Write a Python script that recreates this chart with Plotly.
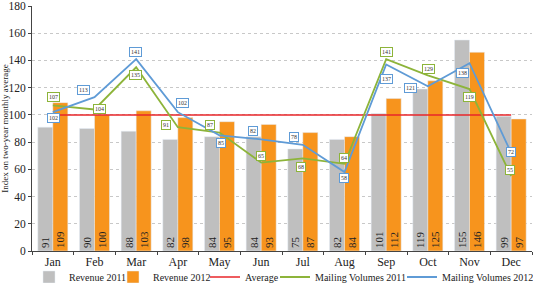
import plotly.graph_objects as go

months = ["Jan", "Feb", "Mar", "Apr", "May", "Jun", "Jul", "Aug", "Sep", "Oct", "Nov", "Dec"]
revenue_2011 = [91, 90, 88, 82, 84, 84, 75, 82, 101, 119, 155, 99]
revenue_2012 = [109, 100, 103, 98, 95, 93, 87, 84, 112, 125, 146, 97]
average = [100] * 12
mailing_2011 = [107, 104, 135, 91, 87, 65, 68, 64, 141, 129, 119, 55]
mailing_2012 = [102, 113, 141, 102, 85, 82, 78, 58, 137, 121, 138, 72]

# label offsets (pixels) for the line data labels
off_2011 = [(1, 8), (5, 0), (-1, -8), (-12, 2), (-10, 8), (0, 7), (-2, -9), (-1, 6), (0, 7), (1, 6), (0, -8), (-1, 6)]
off_2012 = [(1, -6), (-11, 7), (-1, 7), (5, 9), (1, -8), (-8, 8), (-9, 8), (-1, -6), (0, -14), (-17, -2), (-7, -10), (0, 1)]

SERIF = "Liberation Serif"
GRAY = "#bfbfbf"
ORANGE = "#f7941d"
RED = "#e8262a"
GREEN = "#8db43a"
BLUE = "#5f9bd6"
W, H = 533, 283

# legend x positions (pixels, container) for each entry
leg_px = [29, 113, 205, 275, 402]
leg_names = ["legend", "legend2", "legend3", "legend4", "legend5"]

fig = go.Figure()
fig.add_trace(go.Bar(x=months, y=revenue_2011, name="Revenue 2011", marker_color=GRAY,
                     text=revenue_2011, textposition="inside", insidetextanchor="start",
                     textangle=-90, textfont=dict(family=SERIF, size=11, color="#222"),
                     legend="legend"))
fig.add_trace(go.Bar(x=months, y=revenue_2012, name="Revenue 2012", marker_color=ORANGE,
                     text=revenue_2012, textposition="inside", insidetextanchor="start",
                     textangle=-90, textfont=dict(family=SERIF, size=11, color="#222"),
                     legend="legend2"))
fig.add_trace(go.Scatter(x=months, y=average, name="Average", mode="lines",
                         line=dict(color=RED, width=1.5), legend="legend3"))
fig.add_trace(go.Scatter(x=months, y=mailing_2011, name="Mailing Volumes 2011", mode="lines",
                         line=dict(color=GREEN, width=1.8), legend="legend4"))
fig.add_trace(go.Scatter(x=months, y=mailing_2012, name="Mailing Volumes 2012", mode="lines",
                         line=dict(color=BLUE, width=1.8), legend="legend5"))

for vals, offs, col in [(mailing_2011, off_2011, GREEN), (mailing_2012, off_2012, BLUE)]:
    for m, v, (dx, dy) in zip(months, vals, offs):
        fig.add_annotation(x=m, y=v, text=str(v), showarrow=False, xshift=dx, yshift=dy,
                           font=dict(family=SERIF, size=6, color="#333"),
                           bgcolor="white", bordercolor=col, borderwidth=1, borderpad=1)

legend_common = dict(orientation="h", xref="container", yref="container",
                     xanchor="left", yanchor="middle", y=1 - 277 / H,
                     font=dict(family=SERIF, size=10, color="#222"), itemwidth=30,
                     bgcolor="rgba(0,0,0,0)", borderwidth=0)
layout_legends = {}
for name, px in zip(leg_names, leg_px):
    layout_legends[name] = dict(legend_common, x=px / W)

fig.update_layout(
    width=W, height=H,
    margin=dict(l=32, r=1, t=6, b=32, autoexpand=False),
    paper_bgcolor="white", plot_bgcolor="white",
    barmode="group", bargap=0.28, bargroupgap=0,
    font=dict(family=SERIF, size=12, color="#222"),
    uniformtext=dict(minsize=11, mode="show"),
    showlegend=True,
    **layout_legends,
)
fig.update_xaxes(showline=True, linecolor="#444", linewidth=1, ticks="outside",
                 tickson="boundaries", ticklen=3, tickcolor="#444", automargin=False,
                 tickfont=dict(family=SERIF, size=12, color="#222"))
fig.update_yaxes(range=[0, 180], dtick=20, showline=True, linecolor="#444", linewidth=1,
                 ticks="outside", ticklen=3, tickcolor="#444", automargin=False,
                 ticklabeloverflow="allow",
                 showgrid=True, gridcolor="#c8c8c8", griddash="dot", gridwidth=1,
                 zeroline=False,
                 tickfont=dict(family=SERIF, size=11.5, color="#222"),
                 title=dict(text="Index on two-year monthly average", standoff=2,
                            font=dict(family=SERIF, size=9, color="#222")))

fig.write_html("out.html", config={"displayModeBar": False},
               post_script="document.body.style.margin='0';document.body.style.overflow='hidden';")
